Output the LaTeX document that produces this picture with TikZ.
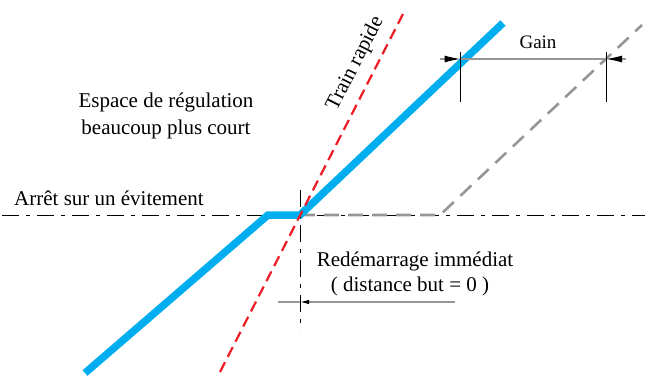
\documentclass[tikz,border=0pt]{standalone}
\usepackage{fontspec}
\setmainfont{Liberation Serif}
\usetikzlibrary{arrows.meta}
\definecolor{cblue}{RGB}{0,174,239}
\definecolor{cred}{RGB}{237,28,36}
\definecolor{cgray}{RGB}{150,150,150}
\begin{document}
\begin{tikzpicture}[x=1pt,y=-1pt,
  axisline/.style={black, line width=0.8pt, dash pattern=on 17pt off 7pt on 4pt off 7pt},
  blueline/.style={cblue, line width=7.5pt, line join=miter},
  redline/.style={cred, line width=2.2pt, dash pattern=on 11pt off 6pt},
  grayline/.style={cgray, line width=2.6pt, dash pattern=on 15pt off 9pt},
  dimline/.style={cgray, line width=1.2pt},
  extline/.style={black, line width=0.7pt},
  bigtip/.style={-{Latex[length=16pt,width=7pt,color=black]}},
  smalltip/.style={-{Latex[length=9pt,width=4.5pt,color=black]}},
  lbl/.style={font=\fontsize{21}{25}\selectfont, inner sep=0pt},
  glbl/.style={font=\fontsize{19}{23}\selectfont, inner sep=0pt}]
\useasboundingbox (0,0) rectangle (653,377);
% coordinates
\coordinate (hL) at (2,215);
\coordinate (hR) at (645,215);
\coordinate (vT) at (300,190);
\coordinate (vB) at (300,330);
\coordinate (b1) at (85,373);
\coordinate (b2) at (268,215);
\coordinate (b3) at (300,215);
\coordinate (b4) at (503,23);
\coordinate (r1) at (220,372);
\coordinate (r2) at (404,12);
\coordinate (g1) at (300,215);
\coordinate (g2) at (440,215);
\coordinate (g3) at (642,25);
\coordinate (e1t) at (460.5,52);
\coordinate (e1b) at (460.5,102);
\coordinate (e2t) at (606,52);
\coordinate (e2b) at (606,102);
\coordinate (d1) at (440,59);
\coordinate (d2) at (460.5,59);
\coordinate (d3) at (606,59);
\coordinate (d4) at (626,59);
\coordinate (a0) at (278,302);
\coordinate (a1) at (300,302);
\coordinate (a2) at (455,302);
% axes
\draw[axisline] (hL) -- (hR);
% gray shifted trajectory
\draw[grayline] (g1) -- (g2) -- (g3);
% blue trajectory
\draw[blueline] (b1) -- (b2) -- (b3) -- (b4);
% vertical axis
\draw[axisline] (vT) -- (vB);
% red fast train
\draw[redline] (r1) -- (r2);
% gain dimension
\draw[extline] (e1t) -- (e1b);
\draw[extline] (e2t) -- (e2b);
\draw[dimline] (d2) -- (d3);
\draw[dimline, bigtip] (d1) -- (d2);
\draw[dimline, bigtip] (d4) -- (d3);
% bottom dimension
\draw[dimline] (a0) -- (a1);
\draw[dimline, smalltip] (a2) -- (a1);
% labels
\node[glbl, anchor=base] (gain) at (538,49) {Gain};
\node[lbl, anchor=base] (esp1) at (166,108) {Espace de régulation};
\node[lbl, anchor=base] (esp2) at (166,135) {beaucoup plus court};
\node[lbl, anchor=base west] (arret) at (14,205) {Arrêt sur un évitement};
\node[lbl, anchor=base] (redem1) at (415,266) {Redémarrage immédiat};
\node[lbl, anchor=base] (redem2) at (410,291) {( distance but = 0 )};
\node[lbl, anchor=base, rotate=63] (train) at (360,66) {Train rapide};
\end{tikzpicture}
\end{document}
